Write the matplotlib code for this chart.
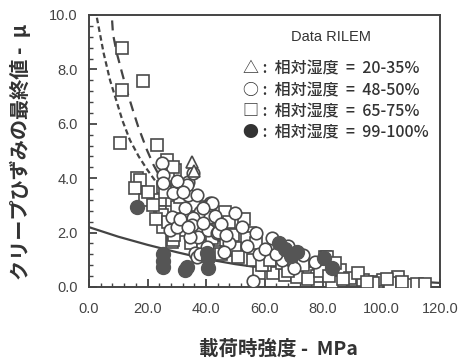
import matplotlib
matplotlib.use("Agg")
import matplotlib.pyplot as plt
from matplotlib.ticker import MultipleLocator, FormatStrFormatter

# ---------------- data ----------------
sq_x = [11.3, 11.3, 18.5, 10.6, 23.2, 26.7, 29.4, 16.4, 17.4, 15.7, 19.1, 24.3, 25.3, 27.0,
        24.3, 28.4, 25.0, 25.3, 28.4, 30.4, 32.8, 30.0, 46.5, 55.0, 49.2, 60.2, 65.3, 69.7,
        76.6, 80.7, 72.8, 63.0, 56.0, 44.8, 46.5, 54.0, 81.4, 85.8, 105.6, 74.5, 98.5, 90.3,
        100.5, 109.7, 83.0, 89.2, 93.7, 97.0, 103.0, 28.7, 30.0, 37.3, 44.0, 34.5, 49.2,
        28.7, 47.0, 50.0, 43.0, 44.8, 58.0, 67.0, 71.0, 78.0, 60.0,
        20.0, 22.0, 23.0, 26.0, 27.0, 29.0, 31.0, 33.0, 35.0, 36.0, 38.0, 39.0, 42.0, 45.0,
        48.0, 51.0, 53.0, 57.0, 59.0, 62.0, 64.0, 66.0, 68.0, 70.0, 73.0, 75.0, 79.0, 82.0,
        84.0, 87.0, 92.0, 95.0, 102.0, 107.0, 112.0, 115.0]
sq_y = [8.79, 7.24, 7.57, 5.29, 5.22, 4.67, 4.30, 4.00, 3.93, 3.64, 3.20, 3.20, 3.68, 4.00,
        2.76, 2.76, 2.65, 2.20, 1.65, 2.57, 2.10, 2.94, 2.76, 1.98, 1.36, 1.29, 0.88, 0.55,
        0.62, 1.10, 1.07, 0.51, 1.00, 1.47, 2.20, 1.80, 1.10, 0.62, 0.37, 0.51, 0.18, 0.26,
        0.26, 0.07, 0.18, 0.33, 0.26, 0.15, 0.15, 4.40, 3.68, 2.94, 2.28, 2.57, 1.90,
        1.73, 1.73, 1.43, 1.29, 2.20, 0.50, 0.45, 0.35, 0.40, 0.80,
        3.50, 3.00, 2.50, 3.50, 2.40, 1.90, 3.30, 2.50, 1.60, 3.00, 2.20, 1.50, 1.80, 1.20,
        2.40, 1.10, 2.50, 1.60, 0.80, 1.00, 1.50, 0.90, 0.60, 1.00, 0.80, 0.30, 0.60, 0.40,
        0.90, 0.30, 0.50, 0.20, 0.30, 0.20, 0.10, 0.10]

ci_x = [25.0, 25.3, 33.8, 33.8, 28.4, 32.8, 38.0, 35.6, 27.7, 37.3, 41.4, 40.7, 36.2,
        25.3, 33.5, 41.4, 41.4, 34.5, 35.2, 40.3, 43.8, 36.9, 35.6, 42.0, 50.0, 52.3,
        39.0, 28.7, 30.0, 62.6, 73.2, 77.3, 56.0, 44.1, 48.0, 58.0, 66.0,
        30.0, 32.0, 37.0, 39.0, 43.0, 45.0, 47.0, 31.0, 34.0, 38.0, 46.0, 54.0, 57.0,
        60.0, 64.0, 70.0, 68.0]
ci_y = [4.56, 4.10, 3.86, 3.38, 2.57, 2.90, 2.76, 2.54, 2.10, 1.84, 3.10, 2.10, 1.25,
        3.82, 3.75, 3.00, 2.57, 1.84, 2.28, 1.47, 1.98, 1.10, 4.19, 3.09, 2.72, 2.20,
        2.35, 3.45, 2.20, 1.80, 1.18, 0.92, 0.22, 2.02, 1.60, 1.20, 1.00,
        3.90, 3.50, 3.40, 2.90, 2.60, 2.30, 1.90, 2.50, 2.20, 1.20, 1.30, 1.50, 2.00,
        1.40, 1.20, 0.70, 1.50]

tri_x = [35.2, 36.0]
tri_y = [4.60, 4.25]

fc_x = [16.4, 25.3, 25.3, 25.3, 33.5, 32.8, 40.7, 40.7, 40.3, 65.0, 67.0, 69.0, 71.0,
        80.5, 83.0]
fc_y = [2.94, 1.20, 0.95, 0.75, 0.73, 0.62, 1.07, 0.70, 1.25, 1.60, 1.40, 1.15, 1.30,
        1.05, 0.70]

# fitted curves
solid_x = [0, 10, 20, 30, 40, 50, 60, 70, 80, 90, 100, 110, 120]
solid_y = [2.2, 1.85, 1.55, 1.28, 1.03, 0.84, 0.69, 0.56, 0.45, 0.36, 0.28, 0.21, 0.15]
fine_x = [2.7, 5.0, 7.2, 9.5, 11.5, 14.0, 17.0, 20.0, 23.0, 26.0]
fine_y = [9.9, 8.6, 7.6, 6.8, 6.1, 5.4, 4.8, 4.3, 3.85, 3.5]
long_x = [7.9, 8.2, 9.5, 11.3, 13.0, 15.0, 16.8, 19.8, 22.0, 25.0]
long_y = [9.8, 9.3, 8.6, 7.87, 7.2, 6.5, 5.9, 5.04, 4.5, 3.9]

legend_title = "Data RILEM"
legend_lines = ["△ :  相対湿度  =  20-35%", "○ :  相対湿度  =  48-50%",
                "□ :  相対湿度  =  65-75%", "● :  相対湿度  =  99-100%"]

# ---------------- figure ----------------
plt.rcParams['font.family'] = ['Liberation Sans', 'Noto Sans CJK JP', 'DejaVu Sans']
fig = plt.figure(figsize=(4.72, 3.58), dpi=100)
ax = fig.add_axes([89/472, 71/358, (440-89)/472, (287-15)/358])

ec = '#4a4a4a'
ax.plot(solid_x, solid_y, '-', color='#444444', lw=1.6, zorder=2)
ax.plot(fine_x, fine_y, color='#444444', lw=1.6, ls=(0, (2.5, 1.5)), zorder=2)
ax.plot(long_x, long_y, color='#444444', lw=1.6, ls=(0, (4.5, 3)), zorder=2)

ax.plot(sq_x, sq_y, 's', ms=8.5, mfc='white', mec=ec, mew=1.2, ls='none', zorder=3)
ax.plot(ci_x, ci_y, 'o', ms=9, mfc='white', mec=ec, mew=1.2, ls='none', zorder=4)
ax.plot(tri_x, tri_y, '^', ms=9, mfc='white', mec=ec, mew=1.2, ls='none', zorder=4)
ax.plot(fc_x, fc_y, 'o', ms=10, mfc='#555555', mec='#555555', mew=1.0, ls='none', zorder=5)

ax.set_xlim(0, 120)
ax.set_ylim(0, 10)
ax.xaxis.set_major_locator(MultipleLocator(20))
ax.xaxis.set_minor_locator(MultipleLocator(4))
ax.yaxis.set_major_locator(MultipleLocator(2))
ax.yaxis.set_minor_locator(MultipleLocator(0.4))
ax.xaxis.set_major_formatter(FormatStrFormatter('%.1f'))
ax.yaxis.set_major_formatter(FormatStrFormatter('%.1f'))
ax.tick_params(which='both', direction='in', top=False, right=False, colors='#444444',
               labelsize=10.5, labelcolor='#444444')
ax.tick_params(axis='x', which='major', length=6, width=1.3, pad=11)
ax.tick_params(axis='y', which='major', length=6, width=1.3, pad=8)
ax.tick_params(which='minor', length=3, width=1.0)
for s in ax.spines.values():
    s.set_color('#444444')
    s.set_linewidth(1.4)

# legend-like annotation inside the frame
ax.text(0.69, 0.92, legend_title, transform=ax.transAxes, fontsize=10.5,
        color='#333333', ha='center', va='center')
for i, t in enumerate(legend_lines):
    ax.text(0.44, 0.80 - i * 0.078, t, transform=ax.transAxes, fontsize=11.5,
            color='#333333', ha='left', va='center', fontweight='medium',
            family=['Noto Sans CJK JP', 'DejaVu Sans'])

fig.text(278/472, 9/358, "載荷時強度 -  MPa", fontsize=14, fontweight='bold',
         ha='center', va='center', color='#333333',
         family=['Noto Sans CJK JP', 'DejaVu Sans'])
fig.text(20/472, (358-152)/358, "クリープひずみの最終値 -  μ", fontsize=14.5,
         fontweight='bold', rotation=90, ha='center', va='center', color='#333333',
         family=['Noto Sans CJK JP', 'DejaVu Sans'])

fig.savefig("out.png", dpi=100)
